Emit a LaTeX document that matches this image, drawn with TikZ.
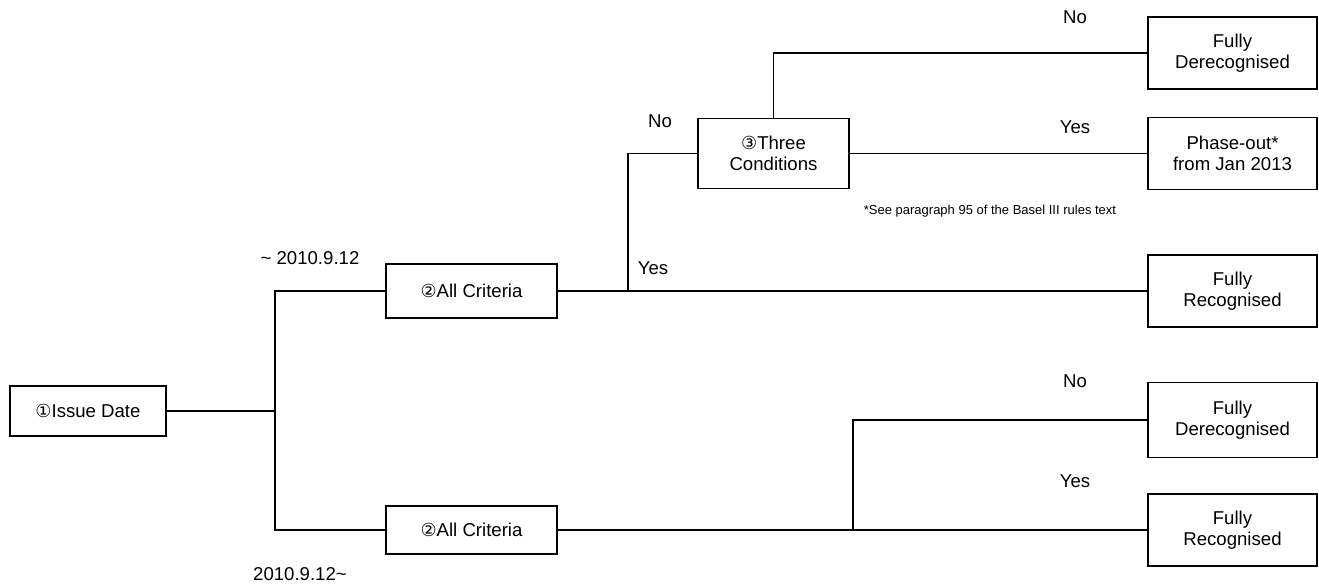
\documentclass[tikz,border=0pt]{standalone}
\usepackage{fontspec}
\setmainfont{Liberation Sans}
\newfontfamily\circfont{DejaVu Sans}
\usetikzlibrary{positioning}
\tikzset{
  box/.style={draw=black, line width=1.6pt, align=center, inner sep=2pt},
  link/.style={line width=1.6pt},
  lbl/.style={inner sep=0pt},
}
\newcommand{\circnum}[1]{{\circfont\fontsize{18}{18}\selectfont #1}}
\begin{document}
\begin{tikzpicture}[x=1pt, y=-1pt, font=\fontsize{18.6}{21.5}\selectfont]
    \useasboundingbox (0,0) rectangle (1319,587);

    % decision boxes
    \node[box, minimum width=156pt, minimum height=50pt] (issue) at (88,411) {\circnum{①}Issue Date};
    \node[box, minimum width=171pt, minimum height=54pt] (critA) at (471.5,291) {\circnum{②}All Criteria};
    \node[box, minimum width=171pt, minimum height=48pt] (critB) at (471.5,530) {\circnum{②}All Criteria};
    \node[box, minimum width=151pt, minimum height=70pt] (three) at (773.5,153.5) {\circnum{③}Three\\Conditions};

    % outcome boxes
    \node[box, minimum width=169pt, minimum height=72pt] (derecA) at (1232.5,53) {Fully\\Derecognised};
    \node[box, minimum width=169pt, minimum height=72pt] (phase) at (1232.5,153.5) {Phase-out*\\from Jan 2013};
    \node[box, minimum width=169pt, minimum height=72pt] (recA) at (1232.5,291) {Fully\\Recognised};
    \node[box, minimum width=169pt, minimum height=75pt] (derecB) at (1232.5,420) {Fully\\Derecognised};
    \node[box, minimum width=169pt, minimum height=72pt] (recB) at (1232.5,530) {Fully\\Recognised};

    % branch points
    \coordinate (split) at (275,0);
    \coordinate (splitA) at (628,0);
    \coordinate (splitB) at (853,0);

    \draw[link] (issue.east) -- (issue.east -| split);
    \draw[link] (critA.west) -- (critA.west -| split) -- (critB.west -| split) -- (critB.west);
    \draw[link] (critA.east) -- (recA.west);
    \draw[link] (critA.east -| splitA) |- (three.west);
    \draw[link] (three.north) |- (derecA.west);
    \draw[link] (three.east) -- (phase.west);
    \draw[link] (critB.east) -- (recB.west);
    \draw[link] (critB.east -| splitB) |- (derecB.west);

    % labels
    \node[lbl] (dateA) at (310,258) {\textasciitilde{} 2010.9.12};
    \node[lbl] (dateB) at (300,574) {2010.9.12\textasciitilde};
    \node[lbl] (noA) at (1075,17) {No};
    \node[lbl] (yesA) at (1075,127) {Yes};
    \node[lbl] (noB) at (660,121) {No};
    \node[lbl] (yesB) at (653,268) {Yes};
    \node[lbl] (noC) at (1075,381) {No};
    \node[lbl] (yesC) at (1075,481) {Yes};
    \node[lbl, font=\fontsize{13}{14}\selectfont] (note) at (990,211) {*See paragraph 95 of the Basel III rules text};
\end{tikzpicture}
\end{document}
